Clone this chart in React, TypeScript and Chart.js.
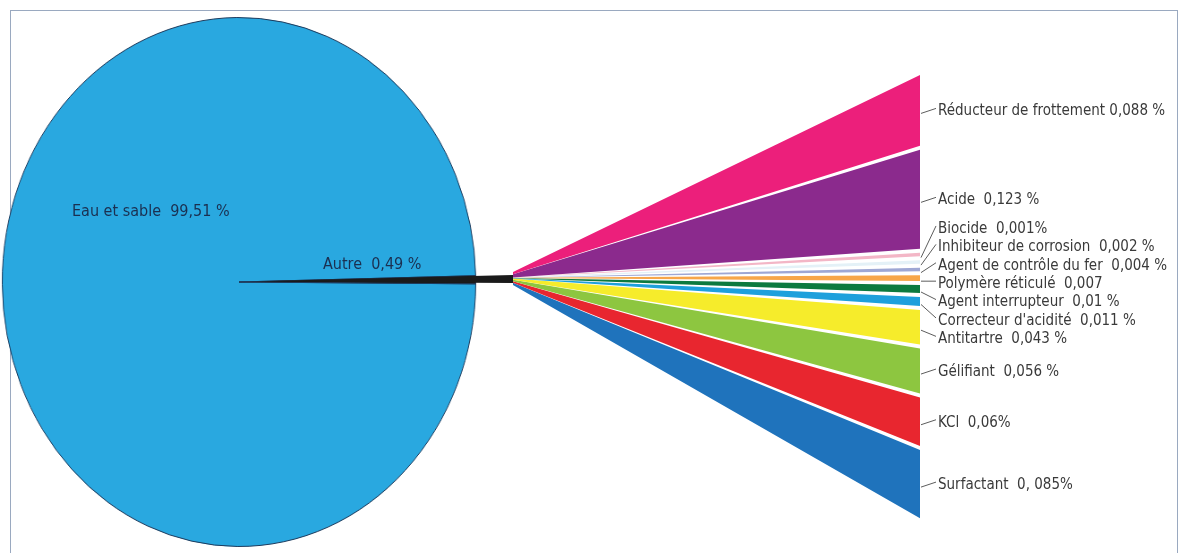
import React, { useEffect, useRef } from "react";
import { Chart, registerables } from "chart.js";
Chart.register(...registerables);

// ---- data ----
const pieCategories = ["Eau et sable", "Autre"];
const pieValues = [99.51, 0.49];
const pieValueLabels = ["99,51 %", "0,49 %"];
const pieColors = ["#29a8e0", "#1a1a1a"];

const fanCategories = [
  "Réducteur de frottement",
  "Acide",
  "Biocide",
  "Inhibiteur de corrosion",
  "Agent de contrôle du fer",
  "Polymère réticulé",
  "Agent interrupteur",
  "Correcteur d'acidité",
  "Antitartre",
  "Gélifiant",
  "KCl",
  "Surfactant",
];
const fanValues = [0.088, 0.123, 0.001, 0.002, 0.004, 0.007, 0.01, 0.011, 0.043, 0.056, 0.06, 0.085];
const fanValueLabels = [" 0,088 %", "  0,123 %", "  0,001%", "  0,002 %", "  0,004 %", "  0,007", "  0,01 %", "  0,011 %", "  0,043 %", "  0,056 %", "  0,06%", "  0, 085%"];
const fanColors = [
  "#ec1f7b",
  "#8b2a8d",
  "#f3b6c6",
  "#e4f1f7",
  "#9ea7d4",
  "#f7a649",
  "#0c7a3f",
  "#1ea0dc",
  "#f6ec2b",
  "#8dc640",
  "#e8262f",
  "#1f73bc",
];

// ---- layout (pixels) ----
const W = 1184;
const H = 553;
const PIE_CX = 239;
const PIE_CY = 282;
const APEX_X = 513;
const RIGHT_X = 920;
const FAN_TOP = 75;
const PX_PER_PCT = 805;
const GAP = 4;
const MIN_H = 3.5;
const APEX_TOP = 272;
const APEX_H = 13;
const LABEL_X = 938;
const LABEL_GAP = 18.4;
const FONT = '"Liberation Sans Narrow", "DejaVu Sans Condensed", "Open Sans", sans-serif';

function buildWedges() {
  const total = fanValues.reduce((a, b) => a + b, 0);
  let y = FAN_TOP;
  let cum = 0;
  return fanValues.map((v) => {
    const h = Math.max(v * PX_PER_PCT, MIN_H);
    const top = y;
    const bot = y + h;
    y = bot + GAP;
    const a0 = APEX_TOP + (cum / total) * APEX_H;
    cum += v;
    const a1 = APEX_TOP + (cum / total) * APEX_H;
    return { top, bot, a0, a1, mid: (top + bot) / 2 };
  });
}

function layoutLabels(mids: number[]) {
  const ys = mids.map((m) => m + 1);
  for (let it = 0; it < 400; it++) {
    for (let i = 1; i < ys.length; i++) {
      const d = ys[i] - ys[i - 1];
      if (d < LABEL_GAP) {
        const o = (LABEL_GAP - d) / 2;
        ys[i - 1] -= o;
        ys[i] += o;
      }
    }
  }
  return ys;
}

export default function App() {
  const pieRef = useRef<HTMLCanvasElement>(null);
  const fanRef = useRef<HTMLCanvasElement>(null);

  useEffect(() => {
    const pie = new Chart(pieRef.current!, {
      type: "pie",
      data: {
        labels: pieCategories,
        datasets: [
          {
            data: pieValues,
            backgroundColor: pieColors,
            borderColor: "#1d3a5c",
            borderWidth: 1,
          },
        ],
      },
      options: {
        responsive: false,
        animation: false,
        events: [],
        rotation: 90.4,
        layout: { padding: 2 },
        plugins: { legend: { display: false }, tooltip: { enabled: false } },
      },
    });

    const wedges = buildWedges();
    const labelYs = layoutLabels(wedges.map((w) => w.mid));

    const datasets: any[] = [];
    // extension of the "Autre" slice up to the fan apex
    datasets.push({
      data: [
        { x: PIE_CX + 10, y: PIE_CY - 0.5 },
        { x: APEX_X, y: APEX_TOP + 3 },
        { x: APEX_X, y: APEX_TOP + APEX_H - 2 },
      ],
      showLine: true,
      fill: "shape",
      backgroundColor: pieColors[1],
      borderColor: "rgba(0,0,0,0)",
      pointRadius: 0,
      tension: 0,
    });
    wedges.forEach((w, i) => {
      datasets.push({
        data: [
          { x: APEX_X, y: w.a0 },
          { x: RIGHT_X, y: w.top },
          { x: RIGHT_X, y: w.bot },
          { x: APEX_X, y: w.a1 },
        ],
        showLine: true,
        fill: "shape",
        backgroundColor: fanColors[i],
        borderColor: "rgba(0,0,0,0)",
        pointRadius: 0,
        tension: 0,
      });
    });
    wedges.forEach((w, i) => {
      datasets.push({
        data: [
          { x: RIGHT_X + 1, y: w.mid + 3 },
          { x: LABEL_X - 2, y: labelYs[i] - 3 },
        ],
        showLine: true,
        fill: false,
        borderColor: "#4a4a4a",
        borderWidth: 0.9,
        pointRadius: 0,
        tension: 0,
      });
    });

    const labelPlugin = {
      id: "labels",
      afterDatasetsDraw(chart: any) {
        const ctx = chart.ctx;
        const xs = chart.scales.x;
        const ysc = chart.scales.y;
        ctx.save();
        ctx.textBaseline = "middle";
        ctx.textAlign = "left";
        ctx.font = `15px ${FONT}`;
        ctx.fillStyle = "#3a3a3a";
        fanCategories.forEach((c, i) => {
          ctx.fillText(c + fanValueLabels[i], xs.getPixelForValue(LABEL_X), ysc.getPixelForValue(labelYs[i]));
        });
        ctx.fillStyle = "#1b2f50";
        ctx.font = `16px ${FONT}`;
        ctx.fillText(pieCategories[0] + "  " + pieValueLabels[0], xs.getPixelForValue(72), ysc.getPixelForValue(212));
        ctx.fillText(pieCategories[1] + "  " + pieValueLabels[1], xs.getPixelForValue(323), ysc.getPixelForValue(265));
        ctx.restore();
      },
    };

    const fan = new Chart(fanRef.current!, {
      type: "scatter",
      data: { datasets },
      options: {
        responsive: false,
        animation: false,
        events: [],
        layout: { padding: 0 },
        scales: {
          x: { type: "linear", min: 0, max: W, display: false },
          y: { type: "linear", min: 0, max: H, reverse: true, display: false },
        },
        plugins: { legend: { display: false }, tooltip: { enabled: false } },
      },
      plugins: [labelPlugin],
    });

    return () => {
      pie.destroy();
      fan.destroy();
    };
  }, []);

  return (
    <div style={{ position: "fixed", left: 0, top: 0, width: W, height: H, background: "#fff", overflow: "hidden" }}>
      <div
        style={{
          position: "absolute",
          left: 10,
          top: 10,
          width: 1168,
          height: 600,
          border: "1.5px solid #9aa9c0",
          boxSizing: "border-box",
        }}
      />
      <canvas
        ref={pieRef}
        width={534}
        height={534}
        style={{ position: "absolute", left: 0, top: 15, width: 478, height: 534 }}
      />
      <canvas
        ref={fanRef}
        width={W}
        height={H}
        style={{ position: "absolute", left: 0, top: 0, width: W, height: H }}
      />
    </div>
  );
}
